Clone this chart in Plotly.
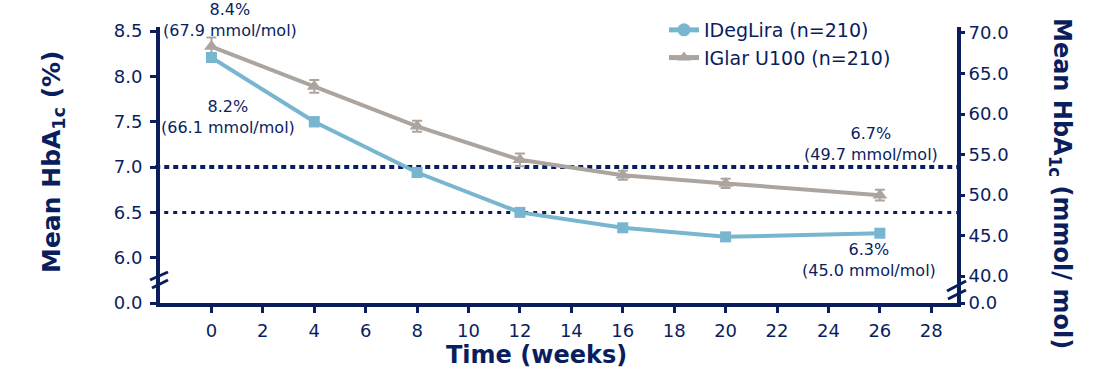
import plotly.graph_objects as go

# ---------------- data ----------------
weeks = [0, 4, 8, 12, 16, 20, 26]
ideglira = [8.21, 7.50, 6.94, 6.50, 6.33, 6.23, 6.27]
ideglira_err = [0.05, 0.05, 0.05, 0.04, 0.04, 0.04, 0.04]
iglar = [8.33, 7.89, 7.45, 7.08, 6.91, 6.82, 6.69]
iglar_err = [0.10, 0.07, 0.06, 0.07, 0.05, 0.05, 0.06]

x_ticks = list(range(0, 29, 2))
pct_ticks = [5.5, 6.0, 6.5, 7.0, 7.5, 8.0, 8.5]
pct_ticktext = ["0.0", "6.0", "6.5", "7.0", "7.5", "8.0", "8.5"]
mmol_range = [36.67, 70.74]
mmol_ticks = [36.67, 40, 45, 50, 55, 60, 65, 70]
mmol_ticktext = ["0.0", "40.0", "45.0", "50.0", "55.0", "60.0", "65.0", "70.0"]
ref_lines = [(7.0, 4, "5px,4px"), (6.5, 3, "4px,5px")]

annotations_data = [
    (0.71, 8.625, "8.4%<br>(67.9 mmol/mol)"),
    (0.63, 7.553, "8.2%<br>(66.1 mmol/mol)"),
    (25.64, 7.258, "6.7%<br>(49.7 mmol/mol)"),
    (25.58, 5.971, "6.3%<br>(45.0 mmol/mol)"),
]

NAVY = "#0a1e5e"
BLUE = "#78b6cf"
GREY = "#aca59f"
FONT = "DejaVu Sans"

W, H = 1112, 369
ML, MT = 160, 27
PW = 957 - 160
PH = 303 - 27
MR = W - ML - PW
MB = H - MT - PH
Y_RANGE = [5.5, 8.546]
X_RANGE = [-2, 29]

def paper_x(px):
    return (px - ML) / PW

def paper_y(py):
    return (MT + PH - py) / PH

def cont_x(px):
    return px / W

def cont_y(py):
    return 1 - py / H

def ydata_to_paper(v):
    return (v - Y_RANGE[0]) / (Y_RANGE[1] - Y_RANGE[0])

fig = go.Figure()

fig.add_trace(go.Scatter(
    x=weeks, y=iglar, mode="lines+markers", showlegend=False,
    line=dict(color=GREY, width=4),
    marker=dict(symbol="triangle-up", size=13, color=GREY),
    error_y=dict(type="data", array=iglar_err, color=GREY, thickness=2, width=5),
))
fig.add_trace(go.Scatter(
    x=weeks, y=ideglira, mode="lines+markers", showlegend=False,
    line=dict(color=BLUE, width=4),
    marker=dict(symbol="square", size=11, color=BLUE),
    error_y=dict(type="data", array=ideglira_err, color=BLUE, thickness=2, width=5),
))
# legend entries
fig.add_trace(go.Scatter(
    x=[None], y=[None], mode="lines+markers", name="IDegLira (n=210)",
    line=dict(color=BLUE, width=5), marker=dict(symbol="circle", size=13, color=BLUE),
))
fig.add_trace(go.Scatter(
    x=[None], y=[None], mode="lines+markers", name="IGlar U100 (n=210)",
    line=dict(color=GREY, width=5), marker=dict(symbol="triangle-up", size=12, color=GREY),
))
# right axis carrier
fig.add_trace(go.Scatter(x=[None], y=[None], yaxis="y2", showlegend=False, hoverinfo="skip"))

shapes = []
for yv, w, dash in ref_lines:
    shapes.append(dict(type="line", xref="paper", yref="y", x0=-0.006, x1=1.0,
                       y0=yv, y1=yv, line=dict(color=NAVY, width=w, dash=dash), layer="below"))

# axis break marks (reference pixel positions)
breaks = [
    ((150, 280), (168, 272)), ((152, 288), (168, 280)),
    ((947, 291), (966, 281)), ((948, 299), (966, 290)),
]
for (x0, y0), (x1, y1) in breaks:
    shapes.append(dict(type="line", xref="paper", yref="paper",
                       x0=paper_x(x0), y0=paper_y(y0),
                       x1=paper_x(x1), y1=paper_y(y1),
                       line=dict(color=NAVY, width=3)))

annotations = []
for ax, ay, txt in annotations_data:
    annotations.append(dict(x=ax, y=ydata_to_paper(ay), xref="x", yref="paper", text=txt,
                            showarrow=False,
                            font=dict(family=FONT, size=16, color=NAVY),
                            xanchor="center", yanchor="middle", align="center"))
annotations.append(dict(x=paper_x(53), y=paper_y(162), xref="paper", yref="paper",
                        text="<b>Mean HbA<sub>1c</sub> (%)</b>", textangle=-90, showarrow=False,
                        font=dict(family=FONT, size=25, color=NAVY), xanchor="center", yanchor="middle"))
annotations.append(dict(x=paper_x(1061), y=paper_y(183), xref="paper", yref="paper",
                        text="<b>Mean HbA<sub>1c</sub> (mmol/ mol)</b>", textangle=90, showarrow=False,
                        font=dict(family=FONT, size=24, color=NAVY), xanchor="center", yanchor="middle"))
annotations.append(dict(x=paper_x(536), y=paper_y(355), xref="paper", yref="paper",
                        text="<b>Time (weeks)</b>", showarrow=False,
                        font=dict(family=FONT, size=24, color=NAVY), xanchor="center", yanchor="middle"))

fig.update_layout(
    width=W, height=H,
    margin=dict(l=ML, r=MR, t=MT, b=MB, pad=0, autoexpand=False),
    paper_bgcolor="white", plot_bgcolor="white",
    font=dict(family=FONT, color=NAVY),
    xaxis=dict(range=X_RANGE, tickvals=x_ticks, showgrid=False, zeroline=False,
               showline=True, linecolor=NAVY, linewidth=4,
               ticks="outside", ticklen=6, tickwidth=3, tickcolor=NAVY, ticklabelstandoff=2,
               tickfont=dict(family=FONT, size=18, color=NAVY)),
    yaxis=dict(range=Y_RANGE, tickvals=pct_ticks, ticktext=pct_ticktext,
               showgrid=False, zeroline=False,
               showline=True, linecolor=NAVY, linewidth=4,
               ticks="outside", ticklen=6, tickwidth=3, tickcolor=NAVY, ticklabelstandoff=4,
               tickfont=dict(family=FONT, size=18, color=NAVY)),
    yaxis2=dict(range=mmol_range, tickvals=mmol_ticks, ticktext=mmol_ticktext,
                overlaying="y", side="right", showgrid=False, zeroline=False,
                showline=True, linecolor=NAVY, linewidth=4,
                ticks="outside", ticklen=4, tickwidth=3, tickcolor=NAVY,
                tickfont=dict(family=FONT, size=18, color=NAVY)),
    legend=dict(xref="container", yref="container", x=cont_x(664), y=cont_y(11),
                xanchor="left", yanchor="top",
                font=dict(family=FONT, size=19, color=NAVY), bgcolor="rgba(0,0,0,0)",
                tracegroupgap=0, itemwidth=30),
    shapes=shapes,
    annotations=annotations,
    showlegend=True,
)

fig.write_html("out.html", config={"displayModeBar": False},
               post_script="document.body.style.margin='0';")
